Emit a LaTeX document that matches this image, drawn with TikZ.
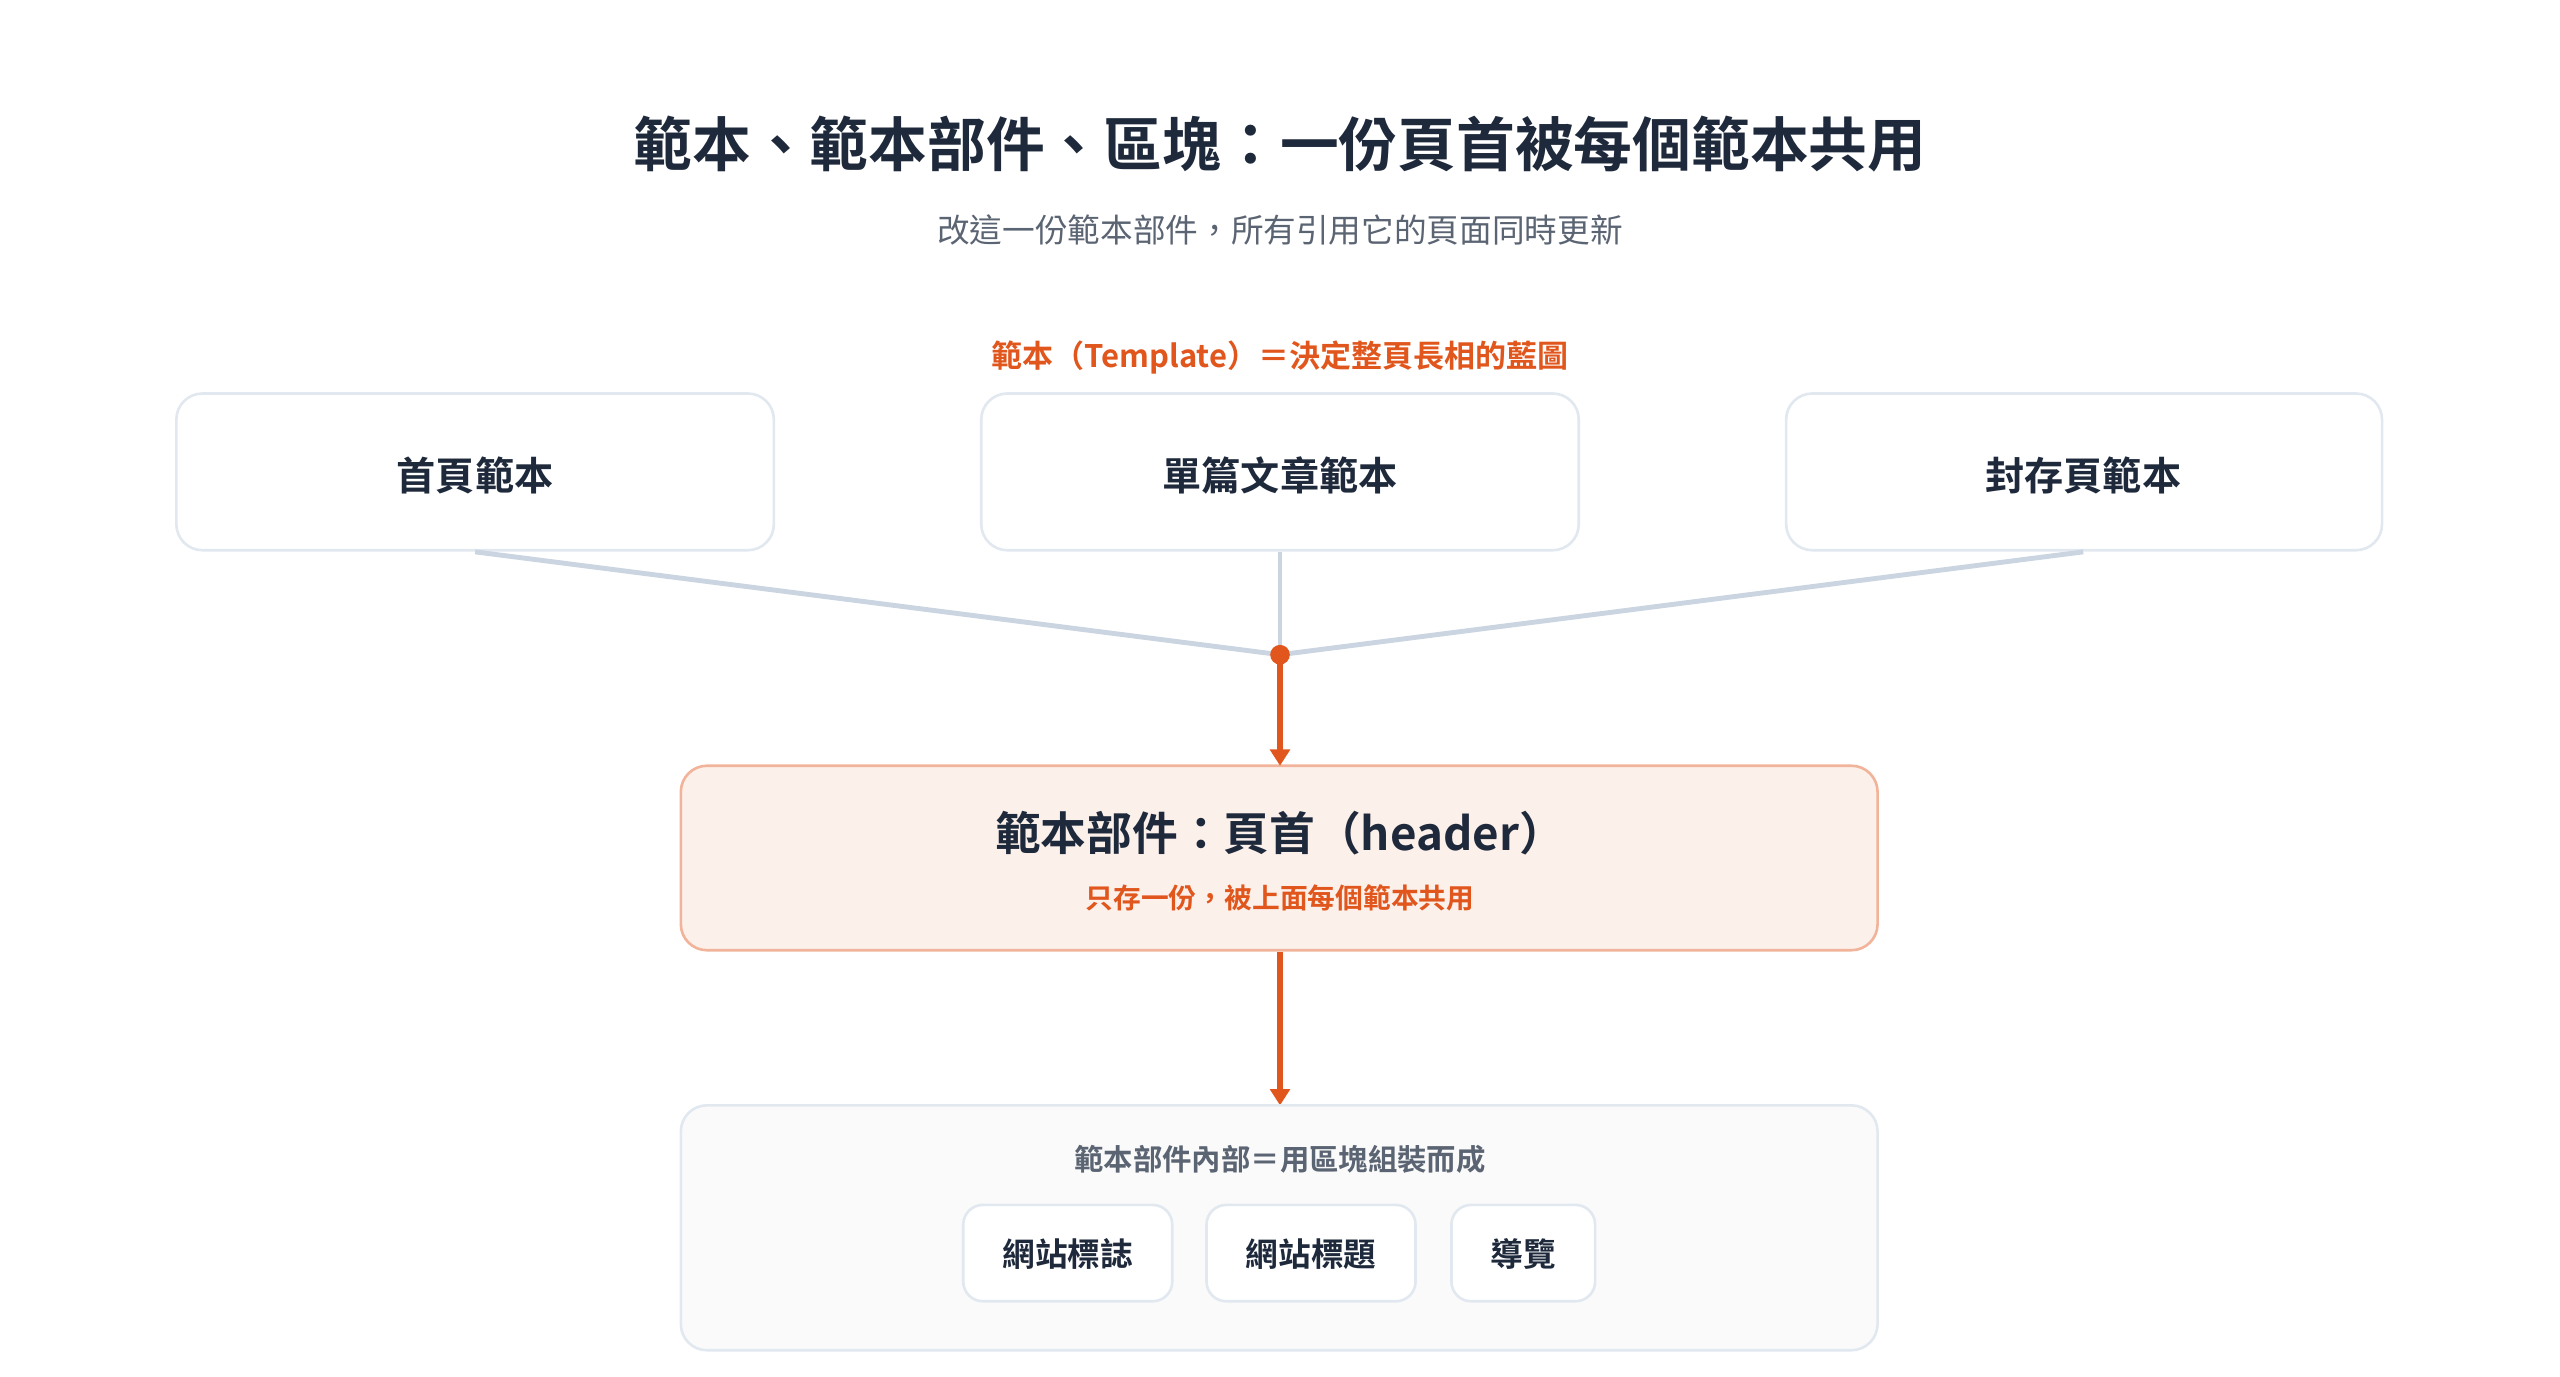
\documentclass[tikz,border=0pt]{standalone}
\usepackage{fontspec}
\setmainfont{Noto Sans CJK TC}[BoldFont={Noto Sans CJK TC Bold}]
\usetikzlibrary{arrows.meta}
\definecolor{ink}{HTML}{1E293B}
\definecolor{sub}{HTML}{5B6472}
\definecolor{org}{HTML}{E0561C}
\definecolor{edge}{HTML}{CBD5E1}
\definecolor{bord}{HTML}{E2E8F0}
\begin{document}
\begin{tikzpicture}[x=0.5pt,y=-0.5pt,
  tmpl/.style={draw=bord,line width=0.8pt,fill=white,rounded corners=8pt},
  chip/.style={draw=bord,line width=0.8pt,fill=white,rounded corners=6pt},
  conn/.style={draw=edge,line width=1.5pt},
  arr/.style={draw=org,line width=1.6pt,-{Triangle[length=5pt,width=6pt]}}]
\useasboundingbox (0,0) rectangle (1568,843);
\node[font=\bfseries\fontsize{18}{22}\selectfont,text=ink] (title) at (784,88) {範本、範本部件、區塊：一份頁首被每個範本共用};
\node[font=\fontsize{10}{12}\selectfont,text=sub] (subt) at (784,141) {改這一份範本部件，所有引用它的頁面同時更新};
\node[font=\bfseries\fontsize{9.5}{12}\selectfont,text=org] (tlab) at (784,219) {範本（Template）＝決定整頁長相的藍圖};
% top boxes
\draw[tmpl] (108,241) rectangle (474,337);
\draw[tmpl] (601,241) rectangle (967,337);
\draw[tmpl] (1094,241) rectangle (1459,337);
\node[font=\bfseries\fontsize{12}{14}\selectfont,text=ink] (t1) at (291,291) {首頁範本};
\node[font=\bfseries\fontsize{12}{14}\selectfont,text=ink] (t2) at (784,291) {單篇文章範本};
\node[font=\bfseries\fontsize{12}{14}\selectfont,text=ink] (t3) at (1276,291) {封存頁範本};
\coordinate (b1) at (291,338);
\coordinate (b2) at (784,338);
\coordinate (b3) at (1276,338);
\coordinate (hub) at (784,401);
\draw[conn] (b1) -- (hub);
\draw[conn] (b2) -- (hub);
\draw[conn] (b3) -- (hub);
% header box
\draw[draw=org!45,fill=org!9,line width=0.8pt,rounded corners=8pt] (417,469) rectangle (1150,582);
\node[font=\bfseries\fontsize{14}{17}\selectfont,text=ink] (hd) at (784,510) {範本部件：頁首（header）};
\node[font=\bfseries\fontsize{8.5}{10}\selectfont,text=org] (hn) at (784,550) {只存一份，被上面每個範本共用};
\coordinate (htop) at (784,469);
\coordinate (hbot) at (784,583);
\coordinate (btop) at (784,677);
\draw[arr] (hub) -- (htop);
\fill[org] (hub) circle (3pt);
\draw[arr] (hbot) -- (btop);
% bottom box
\draw[draw=bord,fill=gray!4,line width=0.8pt,rounded corners=8pt] (417,677) rectangle (1150,827);
\node[font=\bfseries\fontsize{9}{11}\selectfont,text=sub] (bl) at (784,710) {範本部件內部＝用區塊組裝而成};
\draw[chip] (590,738) rectangle (718,797);
\draw[chip] (739,738) rectangle (867,797);
\draw[chip] (889,738) rectangle (977,797);
\node[font=\bfseries\fontsize{10}{12}\selectfont,text=ink] (c1) at (654,768) {網站標誌};
\node[font=\bfseries\fontsize{10}{12}\selectfont,text=ink] (c2) at (803,768) {網站標題};
\node[font=\bfseries\fontsize{10}{12}\selectfont,text=ink] (c3) at (933,768) {導覽};
\end{tikzpicture}
\end{document}
